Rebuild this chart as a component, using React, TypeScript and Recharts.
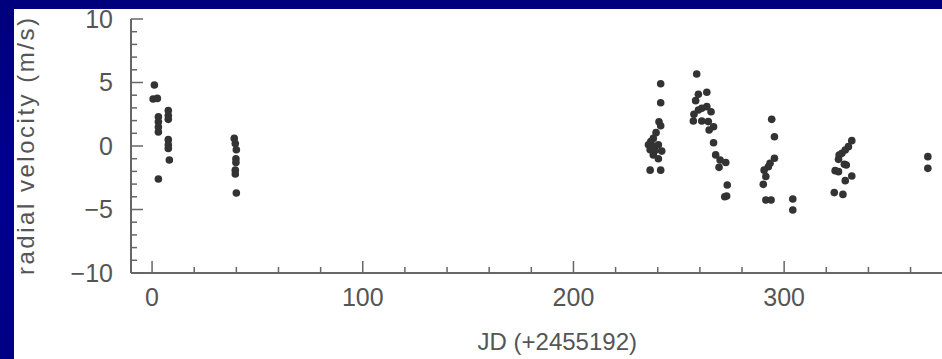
import { ScatterChart, Scatter, XAxis, YAxis } from "recharts";

// days since JD 2455192
const jd = [
  1.1, 0.5, 2.5, 3.0, 3.0, 3.0, 3.0, 7.7, 7.7, 7.7, 7.7, 7.7, 7.7, 8.2, 3.0,
  39, 39.5, 40, 39.8, 39.8, 39.5, 39.5, 40,
  241.4, 241.4, 240.6, 241.4, 239.2, 237.9, 236.7, 235.6, 237.6, 240.3, 236.4, 238.7, 241.9, 237.9, 240.3, 236.4, 241.4,
  258.5, 259.3, 263.3, 258, 259.3, 263.3, 260.9, 265.3, 257.2, 256.9, 260.9, 264, 266.5, 264.4, 266.5, 267.5, 269.6, 272.3, 269.1, 273, 272.7, 271.8,
  294.1, 295.4, 295.4, 293.3, 292.5, 290.5, 291.3, 290.1, 291.3, 293.8, 304.1, 304.1,
  332.1, 330.5, 329, 327.4, 326.1, 325.8, 329.5, 328.6, 324.2, 325.8, 332.1, 329, 323.8, 327.9,
  368.2, 368.2,
];

// radial velocity (m/s)
const rv = [
  4.8, 3.7, 3.75, 2.3, 1.9, 1.5, 1.1, 2.8, 2.4, 2.1, 0.5, 0.1, -0.2, -1.1, -2.6,
  0.6, 0.2, -0.3, -1.0, -1.3, -1.9, -2.2, -3.7,
  4.9, 3.4, 1.9, 1.6, 1.05, 0.6, 0.35, 0.1, 0.0, 0.1, -0.3, -0.35, -0.4, -0.7, -1.0, -1.9, -1.9,
  5.67, 4.07, 4.23, 3.57, 2.83, 3.1, 2.97, 2.7, 2.5, 1.97, 1.97, 1.92, 1.52, 1.26, 0.26, -0.7, -1.1, -1.3, -1.68, -3.07, -3.94, -4.0,
  2.1, 0.73, -0.97, -1.36, -1.63, -1.9, -2.4, -3.02, -4.25, -4.25, -4.17, -5.04,
  0.42, -0.05, -0.31, -0.58, -0.71, -1.05, -1.5, -1.44, -1.94, -2.02, -2.36, -2.73, -3.67, -3.81,
  -0.84, -1.76,
];

const xTicks = [0, 20, 40, 60, 80, 100, 120, 140, 160, 180, 200, 220, 240, 260, 280, 300, 320, 340, 360];
const yTicks = [-10, -9, -8, -7, -6, -5, -4, -3, -2, -1, 0, 1, 2, 3, 4, 5, 6, 7, 8, 9, 10];

const points = jd.map((x, i) => ({ x, y: rv[i] }));

const AXIS = "#666";
const TEXT = "#555";
const FONT = "'Liberation Sans', Arial, sans-serif";

const fmt = (v: number) => (v < 0 ? `\u2212${-v}` : `${v}`);

function BottomTick({ x, y, payload }: any) {
  const major = payload.value % 100 === 0;
  return (
    <g>
      <line x1={x} x2={x} y1={y} y2={y - (major ? 12 : 6)} stroke={AXIS} strokeWidth={1.5} />
      {major && (
        <text x={x} y={y + 24} dy="0.35em" textAnchor="middle" fill={TEXT} fontSize={25} fontFamily={FONT}>
          {payload.value}
        </text>
      )}
    </g>
  );
}

function TopTick({ x, y, payload }: any) {
  const major = payload.value % 100 === 0;
  return <line x1={x} x2={x} y1={y} y2={y + (major ? 12 : 6)} stroke={AXIS} strokeWidth={1.5} />;
}

function LeftTick({ x, y, payload }: any) {
  const major = payload.value % 5 === 0;
  return (
    <g>
      <line x1={x} x2={x + (major ? 12 : 6)} y1={y} y2={y} stroke={AXIS} strokeWidth={1.5} />
      {major && (
        <text x={x - 18} y={y} dy="0.35em" textAnchor="end" fill={TEXT} fontSize={25} fontFamily={FONT}>
          {fmt(payload.value)}
        </text>
      )}
    </g>
  );
}

function RightTick({ x, y, payload }: any) {
  const major = payload.value % 5 === 0;
  return <line x1={x} x2={x - (major ? 12 : 6)} y1={y} y2={y} stroke={AXIS} strokeWidth={1.5} />;
}

function XTitle() {
  return (
    <text x={637} y={350} textAnchor="end" fill={TEXT} fontSize={24} fontFamily={FONT}>
      JD (+2455192)
    </text>
  );
}

function YTitle() {
  return (
    <text
      transform="translate(33.5,146.5) rotate(-90)"
      textAnchor="middle"
      fill={TEXT}
      fontSize={24}
      fontFamily={FONT}
      textLength={257}
      lengthAdjust="spacing"
    >
      radial velocity (m/s)
    </text>
  );
}

const Dot = ({ cx, cy }: any) => <circle cx={cx} cy={cy} r={3.8} fill="#333" />;
const Nothing = () => <g />;

export default function App() {
  return (
    <div
      style={{
        position: "fixed",
        left: 0,
        top: 0,
        width: 942,
        height: 359,
        overflow: "hidden",
        background: "linear-gradient(180deg, #00007c 0%, #000090 50%, #000084 100%)",
      }}
    >
      <div style={{ position: "absolute", left: 14, top: 9, right: 0, bottom: 0, background: "#fff" }} />
      <div style={{ position: "absolute", left: 0, top: 0 }}>
        <ScatterChart width={970} height={359} margin={{ top: 19, right: 17.3, bottom: 26, left: 71 }}>
          <XAxis
            dataKey="x"
            type="number"
            domain={[-10, 380]}
            ticks={xTicks}
            interval={0}
            tickSize={0}
            tickMargin={0}
            tickLine={false}
            axisLine={{ stroke: AXIS, strokeWidth: 2 }}
            tick={<BottomTick />}
            height={60}
            label={<XTitle />}
          />
          <XAxis
            xAxisId="top"
            orientation="top"
            dataKey="x"
            type="number"
            domain={[-10, 380]}
            ticks={xTicks}
            interval={0}
            tickSize={0}
            tickMargin={0}
            tickLine={false}
            axisLine={{ stroke: AXIS, strokeWidth: 2 }}
            tick={<TopTick />}
            height={0}
          />
          <YAxis
            dataKey="y"
            type="number"
            domain={[-10, 10]}
            ticks={yTicks}
            interval={0}
            tickSize={0}
            tickMargin={0}
            tickLine={false}
            axisLine={{ stroke: AXIS, strokeWidth: 2 }}
            tick={<LeftTick />}
            width={60}
            label={<YTitle />}
          />
          <YAxis
            yAxisId="right"
            orientation="right"
            dataKey="y"
            type="number"
            domain={[-10, 10]}
            ticks={yTicks}
            interval={0}
            tickSize={0}
            tickMargin={0}
            tickLine={false}
            axisLine={{ stroke: AXIS, strokeWidth: 2 }}
            tick={<RightTick />}
            width={0}
          />
          <Scatter data={points} xAxisId="top" yAxisId="right" shape={<Nothing />} isAnimationActive={false} />
          <Scatter data={points} shape={<Dot />} isAnimationActive={false} />
        </ScatterChart>
      </div>
    </div>
  );
}
